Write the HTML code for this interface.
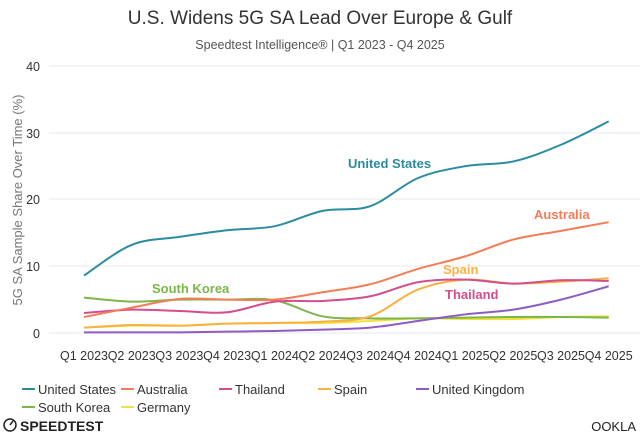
<!DOCTYPE html>
<html><head><meta charset="utf-8"><style>
body{margin:0;background:#fff;font-family:"Liberation Sans",sans-serif}
</style></head><body>
<svg width="640" height="434" xmlns="http://www.w3.org/2000/svg" font-family="Liberation Sans, sans-serif">
<text x="320" y="24" text-anchor="middle" font-size="19" fill="#333">U.S. Widens 5G SA Lead Over Europe &amp; Gulf</text>
<text x="320" y="49" text-anchor="middle" font-size="12.5" fill="#555">Speedtest Intelligence® | Q1 2023 - Q4 2025</text>
<g stroke="#e8e8e8" stroke-width="1">
<line x1="49" x2="640" y1="66" y2="66"/><line x1="49" x2="640" y1="133" y2="133"/>
<line x1="49" x2="640" y1="199" y2="199"/><line x1="49" x2="640" y1="266" y2="266"/>
<line x1="49" x2="640" y1="333" y2="333"/></g>
<g font-size="12.5" fill="#333" text-anchor="end">
<text x="40" y="71">40</text><text x="40" y="138">30</text><text x="40" y="204">20</text><text x="40" y="271">10</text><text x="40" y="338">0</text></g>
<text transform="translate(22,200) rotate(-90)" text-anchor="middle" font-size="13" fill="#777">5G SA Sample Share Over Time (%)</text>
<g id="xl" font-size="12.5" fill="#333" text-anchor="middle"></g>
<g id="lines" fill="none" stroke-width="2"></g>
<g font-size="13" font-weight="bold" font-family="Liberation Sans Narrow, Liberation Sans, sans-serif">
<text x="348" y="168" fill="#2a8ca0">United States</text>
<text x="534" y="219" fill="#f47c56">Australia</text>
<text x="443" y="274" fill="#f9b043">Spain</text>
<text x="445" y="299" fill="#d44d8e">Thailand</text>
<text x="152" y="293" fill="#7ab648">South Korea</text>
</g>
<g font-size="13" fill="#333" font-family="Liberation Sans Narrow, Liberation Sans, sans-serif">
<line x1="22" x2="35" y1="389" y2="389" stroke="#2a8ca0" stroke-width="2"/><text x="38" y="394">United States</text>
<line x1="121" x2="134" y1="389" y2="389" stroke="#f47c56" stroke-width="2"/><text x="137" y="394">Australia</text>
<line x1="219" x2="232" y1="389" y2="389" stroke="#d44d8e" stroke-width="2"/><text x="235" y="394">Thailand</text>
<line x1="318" x2="331" y1="389" y2="389" stroke="#f9b043" stroke-width="2"/><text x="334" y="394">Spain</text>
<line x1="416" x2="429" y1="389" y2="389" stroke="#8e5bc4" stroke-width="2"/><text x="432" y="394">United Kingdom</text>
<line x1="22" x2="35" y1="407" y2="407" stroke="#7ab648" stroke-width="2"/><text x="38" y="412">South Korea</text>
<line x1="121" x2="134" y1="407" y2="407" stroke="#f2e13c" stroke-width="2"/><text x="137" y="412">Germany</text>
</g>
<circle cx="10" cy="425" r="6" fill="none" stroke="#222" stroke-width="1.5"/>
<line x1="10" y1="425" x2="13" y2="421" stroke="#222" stroke-width="1.5"/>
<text x="20" y="431" font-size="14" font-weight="bold" fill="#222">SPEEDTEST</text>
<text x="636" y="431" font-size="13" fill="#222" text-anchor="end">OOKLA</text>
</svg>
<script>
const X=i=>84+i*47.7, Y=v=>333-v*6.675;
const labels=["Q1 2023","Q2 2023","Q3 2023","Q4 2023","Q1 2024","Q2 2024","Q3 2024","Q4 2024","Q1 2025","Q2 2025","Q3 2025","Q4 2025"];
let xl=document.getElementById('xl'),h='';
labels.forEach((l,i)=>{h+=`<text x="${X(i)}" y="360">${l}</text>`});
xl.innerHTML=h;
const S=[
["#f2e13c",[0.8,1.1,1.1,1.4,1.5,1.5,1.8,2.2,2.1,2.1,2.4,2.5]],
["#7ab648",[5.3,4.7,5.0,5.0,4.9,2.5,2.2,2.2,2.3,2.4,2.4,2.3]],
["#8e5bc4",[0.1,0.1,0.1,0.2,0.3,0.5,0.8,1.8,2.8,3.5,5.0,7.0]],
["#f9b043",[0.8,1.2,1.1,1.4,1.5,1.7,2.5,6.5,8.0,7.4,7.7,8.2]],
["#d44d8e",[3.0,3.5,3.3,3.1,4.7,4.8,5.5,7.6,8.0,7.4,7.9,7.8]],
["#f47c56",[2.4,3.8,5.1,5.0,5.0,6.1,7.3,9.6,11.5,14.0,15.3,16.6]],
["#2a8ca0",[8.6,13.2,14.4,15.4,16.0,18.3,19.0,23.2,25.0,25.7,28.2,31.7]]];
let g='';
S.forEach(([c,d])=>{const p=d.map((v,i)=>[X(i),Y(v)]);let s=`M${p[0][0]},${p[0][1]}`;
for(let i=0;i<p.length-1;i++){const p0=p[Math.max(i-1,0)],p1=p[i],p2=p[i+1],p3=p[Math.min(i+2,p.length-1)];
s+=` C${p1[0]+(p2[0]-p0[0])/6},${p1[1]+(p2[1]-p0[1])/6} ${p2[0]-(p3[0]-p1[0])/6},${p2[1]-(p3[1]-p1[1])/6} ${p2[0]},${p2[1]}`;}
g+=`<path d="${s}" stroke="${c}"/>`});
document.getElementById('lines').innerHTML=g;
</script>
</body></html>
